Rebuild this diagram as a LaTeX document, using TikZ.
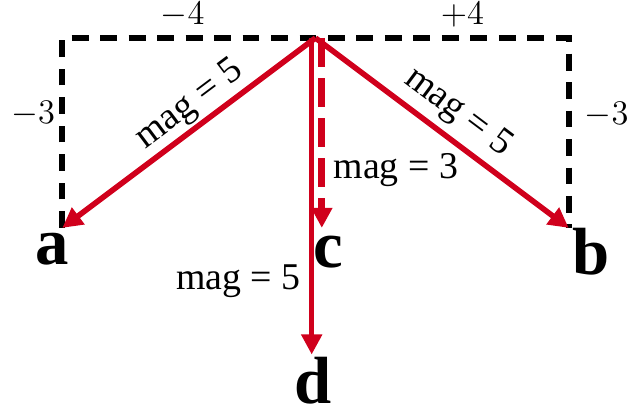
\RequirePackage{fix-cm}
\documentclass[tikz,border=0pt]{standalone}
\usepackage[no-math]{fontspec}
\setmainfont{Liberation Serif}
\usepackage{xcolor}
\usepackage{tikz}
\usetikzlibrary{arrows.meta}
\definecolor{vecred}{RGB}{208,0,28}

\begin{document}
\begin{tikzpicture}[
                every node/.style={align=center, inner sep=0pt},
                comp/.style={draw=black, line width=2.7pt, dash pattern=on 7.6pt off 5.2pt},
                vec/.style={draw=vecred, line width=2.5pt, -{Triangle[length=9pt,width=9pt]}},
                mag label/.style={font=\fontsize{17}{20}\selectfont},
                num label/.style={font=\fontsize{15.5}{18}\selectfont},
                pt label/.style={font=\fontsize{30}{32}\selectfont\bfseries, anchor=base}
            ]
            \useasboundingbox (-4.984,-5.877) rectangle (4.937,0.600);

            % Points
            \coordinate (O) at (0,0);
            \coordinate (L) at (-4,0);
            \coordinate (R) at (4,0);
            \coordinate (A) at (-4,-3);
            \coordinate (B) at (4,-3);
            \coordinate (Cs) at (0.1,0);
            \coordinate (C) at (0.1,-3);
            \coordinate (Ds) at (-0.06,0);
            \coordinate (D) at (-0.06,-5);

            % Nodes
            \node[pt label] (a) at (-4.16,-3.586) {a};
            \node[pt label] (b) at (4.35,-3.744) {b};
            \node[pt label] (c) at (0.21,-3.62) {c};
            \node[pt label] (d) at (-0.04,-5.78) {d};

            \node[num label, anchor=base] (xl) at (-2.1,0.22) {$-4$};
            \node[num label, anchor=base] (xr) at (2.32,0.22) {$+4$};
            \node[num label] (yl) at (-4.46,-1.2) {$-3$};
            \node[num label] (yr) at (4.6,-1.22) {$-3$};

            \node[mag label, rotate=36.87] (ma) at (-1.98,-1.06) {mag = 5};
            \node[mag label, rotate=-36.87] (mb) at (2.25,-1.18) {mag = 5};
            \node[mag label] (mc) at (1.27,-2.09) {mag = 3};
            \node[mag label] (md) at (-1.22,-3.84) {mag = 5};

            % Edges
            \draw[comp] (A) -- (L) -- (R) -- (B);
            \draw[vec] (O) -- (A);
            \draw[vec] (O) -- (B);
            \draw[vec, line width=3pt, dash pattern=on 13pt off 5pt] (Cs) -- (C);
            \draw[vec, line width=2.2pt] (Ds) -- (D);

            \end{tikzpicture}
\end{document}
